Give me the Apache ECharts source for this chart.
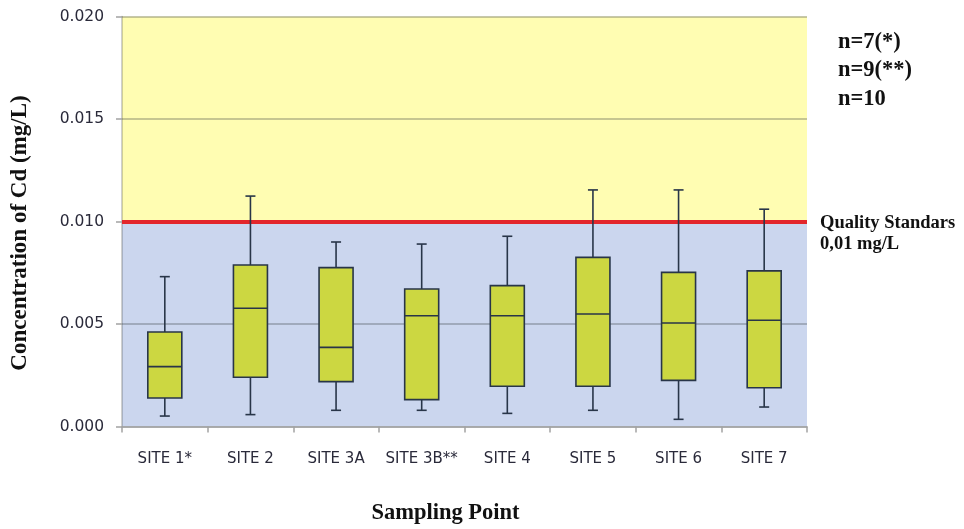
<!DOCTYPE html>
<html>
<head>
<meta charset="utf-8">
<script src="https://cdn.jsdelivr.net/npm/echarts@6/dist/echarts.min.js"></script>
<style>
  html, body { margin: 0; padding: 0; background: #ffffff; }
  #chart { width: 964px; height: 529px; }
</style>
</head>
<body>
<div id="chart"></div>
<script>
// Cadmium concentration per sampling site (mg/L): five-number summaries
const categories = ['SITE 1*', 'SITE 2', 'SITE 3A', 'SITE 3B**', 'SITE 4', 'SITE 5', 'SITE 6', 'SITE 7'];
const minVals    = [0.00051, 0.00058, 0.00079, 0.00079, 0.00064, 0.00079, 0.00035, 0.00095];
const q1Vals     = [0.00139, 0.00240, 0.00219, 0.00131, 0.00196, 0.00196, 0.00225, 0.00189];
const medianVals = [0.00292, 0.00577, 0.00386, 0.00540, 0.00540, 0.00549, 0.00505, 0.00518];
const q3Vals     = [0.00461, 0.00788, 0.00775, 0.00671, 0.00687, 0.00825, 0.00752, 0.00759];
const maxVals    = [0.00731, 0.01124, 0.00900, 0.00890, 0.00928, 0.01154, 0.01154, 0.01060];

// Quality standard and axis range
const qualityStandard = 0.01;
const yMin = 0;
const yMax = 0.02;
const yStep = 0.005;

const sampleNotes = ['n=7(*)', 'n=9(**)', 'n=10'];

const boxData = categories.map((c, i) => [i, minVals[i], q1Vals[i], medianVals[i], q3Vals[i], maxVals[i]]);

const serifBold = { fontFamily: '"Liberation Serif", "DejaVu Serif", serif', fontWeight: 'bold', fill: '#111' };
const sansFont = '"DejaVu Sans", "Noto Sans", sans-serif';

function renderBox(params, api) {
  const i = api.value(0);
  const pMin = api.coord([i, api.value(1)]);
  const pQ1 = api.coord([i, api.value(2)]);
  const pMed = api.coord([i, api.value(3)]);
  const pQ3 = api.coord([i, api.value(4)]);
  const pMax = api.coord([i, api.value(5)]);
  const x = pMed[0];
  const halfBox = 17;
  const halfCap = 5;
  const stroke = '#283548';
  const lineStyle = { stroke: stroke, lineWidth: 1.6 };
  return {
    type: 'group',
    children: [
      { type: 'line', shape: { x1: x, y1: pQ3[1], x2: x, y2: pMax[1] }, style: lineStyle },
      { type: 'line', shape: { x1: x - halfCap, y1: pMax[1], x2: x + halfCap, y2: pMax[1] }, style: lineStyle },
      { type: 'line', shape: { x1: x, y1: pQ1[1], x2: x, y2: pMin[1] }, style: lineStyle },
      { type: 'line', shape: { x1: x - halfCap, y1: pMin[1], x2: x + halfCap, y2: pMin[1] }, style: lineStyle },
      { type: 'rect', shape: { x: x - halfBox, y: pQ3[1], width: halfBox * 2, height: pQ1[1] - pQ3[1] },
        style: { fill: '#ccd741', stroke: stroke, lineWidth: 1.6 } },
      { type: 'line', shape: { x1: x - halfBox, y1: pMed[1], x2: x + halfBox, y2: pMed[1] }, style: lineStyle }
    ]
  };
}

function label(text, x, y, size, align) {
  return {
    type: 'text', x: x, y: y,
    style: Object.assign({ text: text, fontSize: size, textAlign: align || 'left', textVerticalAlign: 'middle' }, serifBold)
  };
}

const chart = echarts.init(document.getElementById('chart'), null, { renderer: 'canvas' });

chart.setOption({
  animation: false,
  backgroundColor: '#ffffff',
  grid: { left: 122, right: 157, top: 16.5, bottom: 102.5, containLabel: false },
  xAxis: {
    type: 'category',
    data: categories,
    boundaryGap: true,
    axisLine: { show: true, lineStyle: { color: '#a3a3a3', width: 1.5 } },
    axisTick: { show: true, interval: 0, alignWithLabel: false, length: 6, lineStyle: { color: '#a3a3a3', width: 1.5 } },
    axisLabel: { interval: 0, hideOverlap: false, color: '#2a2a3a', fontSize: 15, fontFamily: sansFont, margin: 25 },
    splitLine: { show: false },
    z: 3
  },
  yAxis: {
    type: 'value',
    min: yMin,
    max: yMax,
    interval: yStep,
    axisLine: { show: true, lineStyle: { color: 'rgba(70,75,70,0.35)', width: 1.5 } },
    axisTick: { show: true, length: 6, lineStyle: { color: '#a3a3a3', width: 1.5 } },
    axisLabel: {
      color: '#2a2a3a', fontSize: 15.5, fontFamily: sansFont, margin: 18,
      formatter: v => v.toFixed(3)
    },
    splitLine: { show: true, lineStyle: { color: 'rgba(55,60,60,0.38)', width: 1.5 } },
    z: 3
  },
  series: [
    {
      // polluted / not polluted zones
      type: 'line',
      data: [],
      z: 1,
      silent: true,
      markArea: {
        silent: true,
        data: [
          [{ yAxis: qualityStandard, itemStyle: { color: '#fffdb2' } }, { yAxis: yMax }],
          [{ yAxis: yMin, itemStyle: { color: '#cbd6ee' } }, { yAxis: qualityStandard }]
        ]
      }
    },
    {
      type: 'custom',
      renderItem: renderBox,
      data: boxData,
      encode: { x: 0, y: [1, 2, 3, 4, 5] },
      z: 5,
      silent: true
    },
    {
      // quality standard threshold
      type: 'line',
      data: [],
      z: 6,
      silent: true,
      markLine: {
        silent: true,
        symbol: 'none',
        label: { show: false },
        lineStyle: { color: '#e3262b', width: 4, type: 'solid' },
        data: [{ yAxis: qualityStandard }]
      }
    }
  ],
  graphic: [
    label('Polluted', 137, 37, 18),
    label('Not', 137, 240, 18),
    label('Polluted', 137, 263, 18),
    label(sampleNotes[0], 838, 42, 22.5),
    label(sampleNotes[1], 838, 70.5, 22.5),
    label(sampleNotes[2], 838, 99, 22.5),
    label('Quality Standars', 820, 223, 18.5),
    label('0,01 mg/L', 820, 244, 18.5),
    label('Sampling Point', 445.5, 513, 22.5, 'center'),
    { type: 'text', x: 20, y: 233, rotation: Math.PI / 2,
      style: Object.assign({ text: 'Concentration of Cd (mg/L)', fontSize: 23, textAlign: 'center', textVerticalAlign: 'middle' }, serifBold) }
  ]
});
</script>
</body>
</html>
